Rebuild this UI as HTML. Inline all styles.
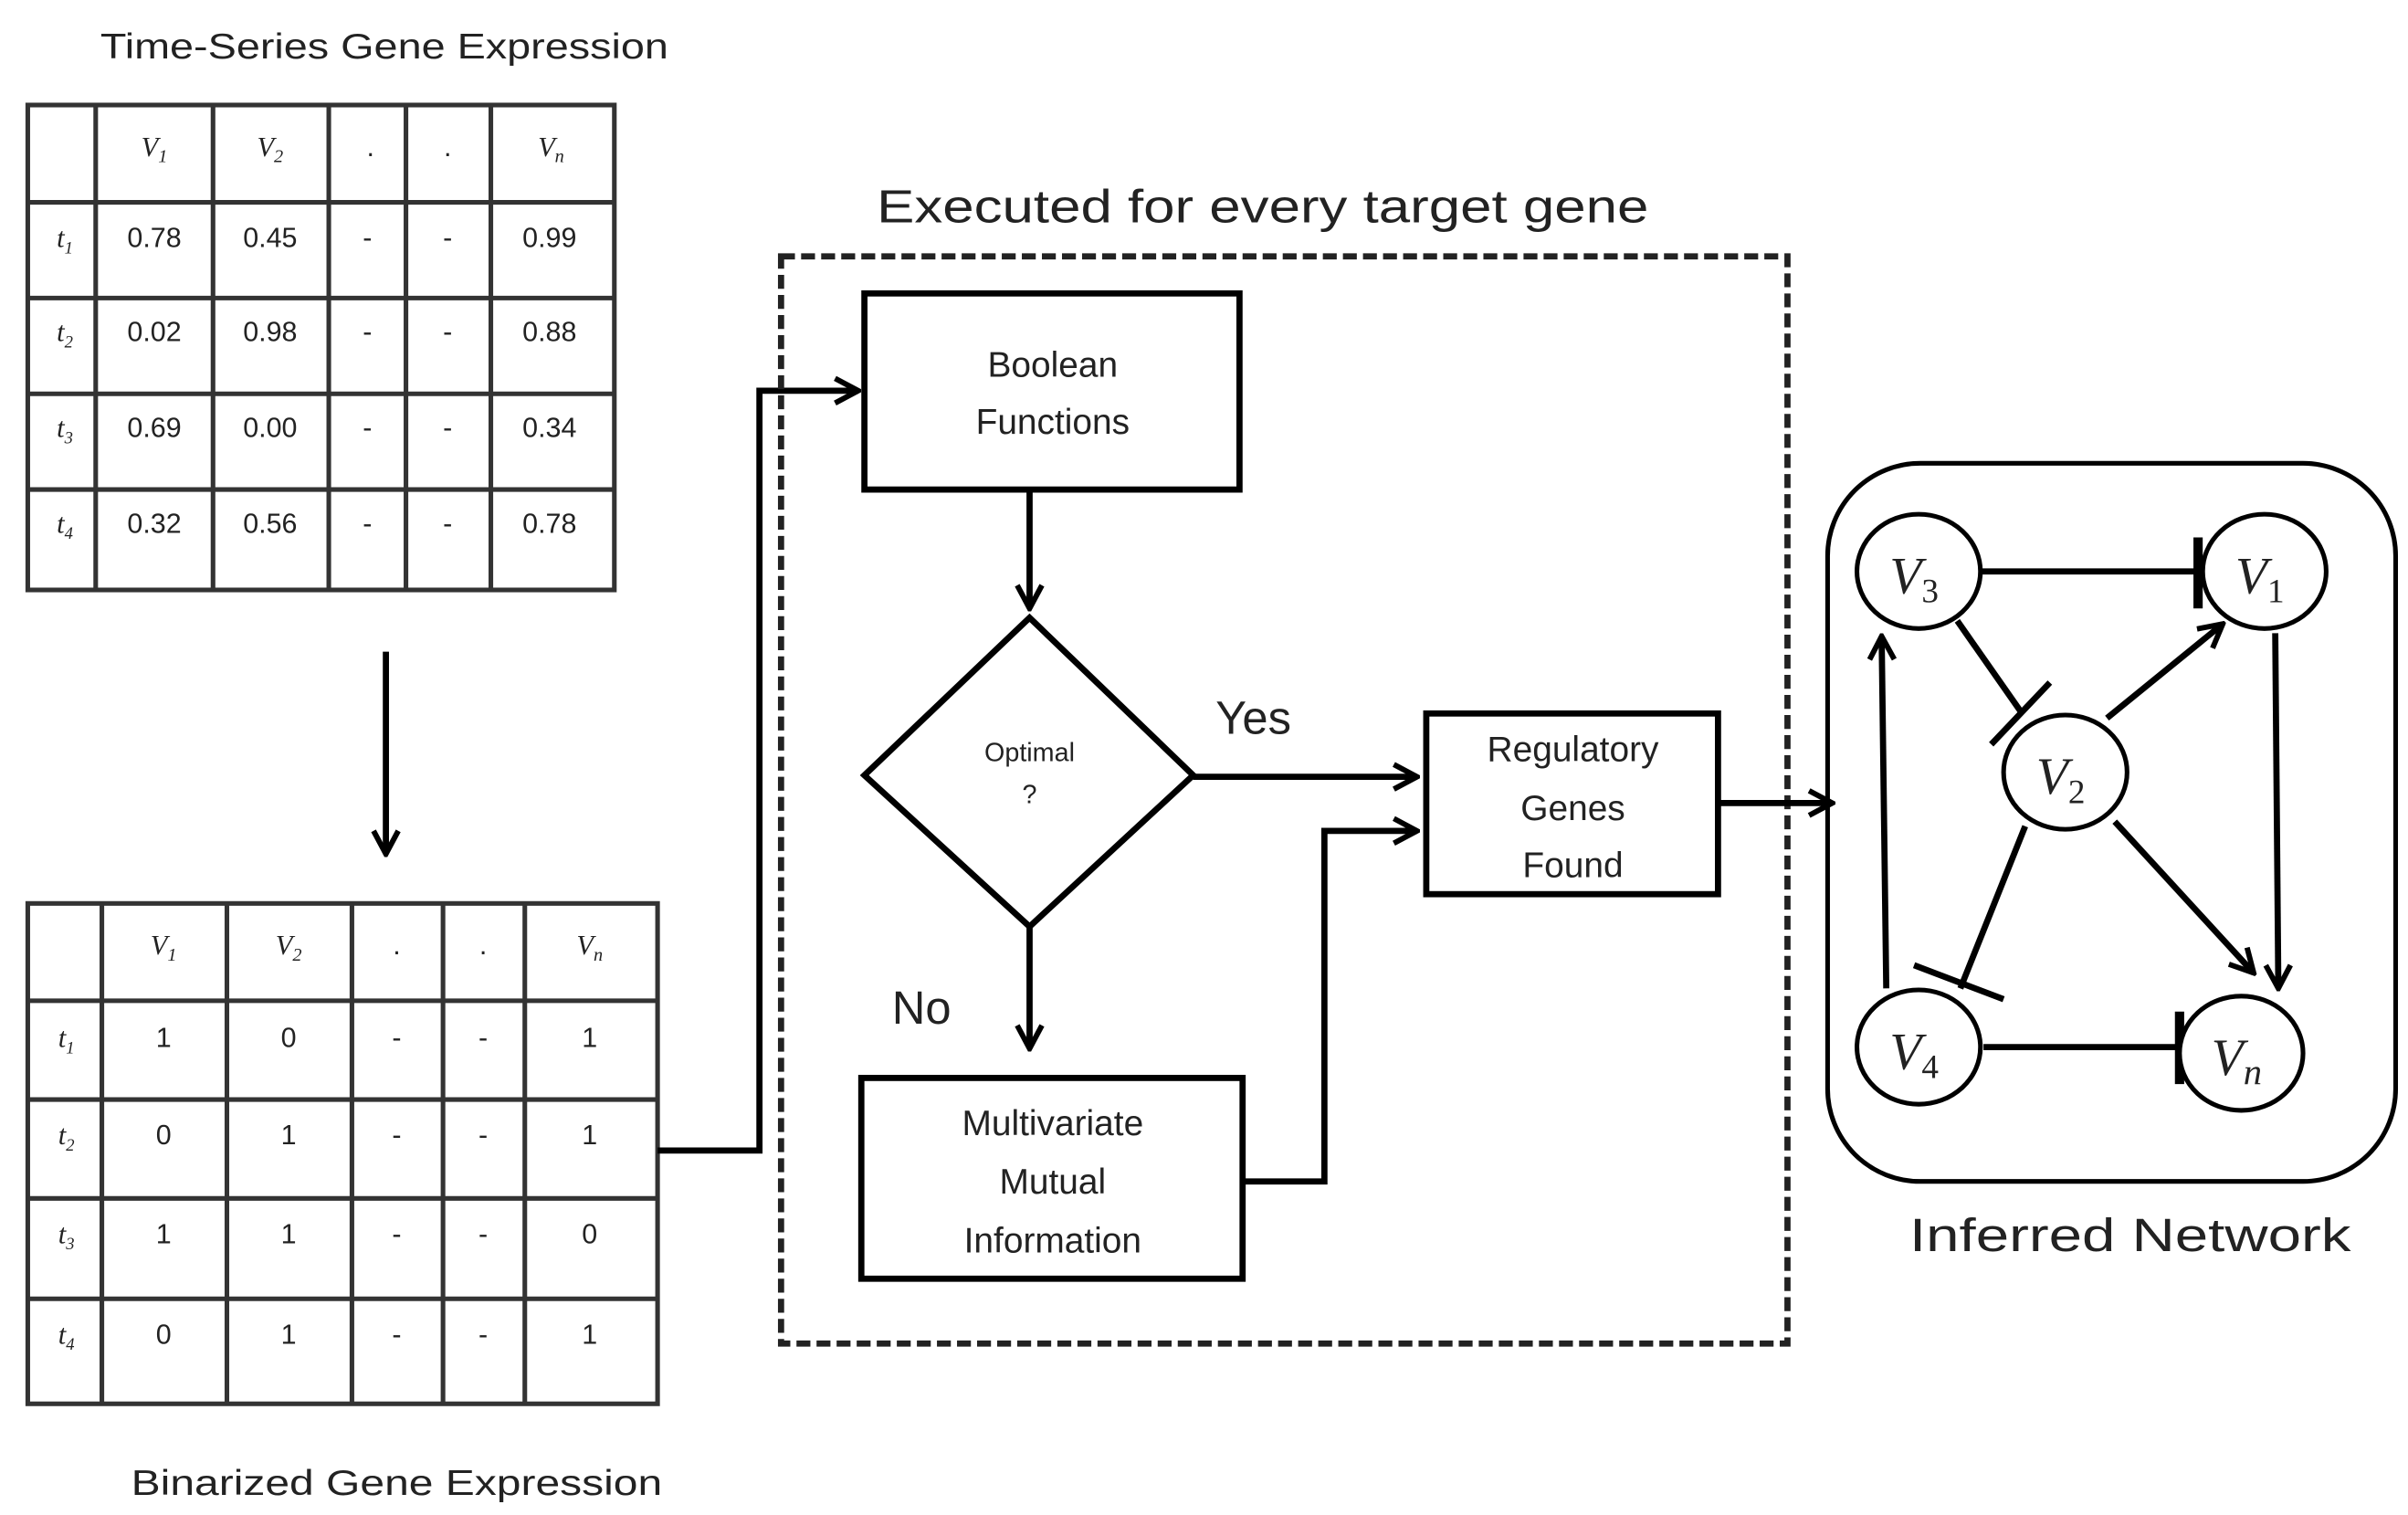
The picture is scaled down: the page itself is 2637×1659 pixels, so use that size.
<!DOCTYPE html>
<html><head><meta charset="utf-8"><style>
html,body{margin:0;padding:0;background:#fff;}
svg{display:block;}
text{font-family:"Liberation Sans",sans-serif;fill:#222;}
.s{font-family:"Liberation Serif",serif;}
</style></head><body>
<svg width="2637" height="1659" viewBox="0 0 1560 981" preserveAspectRatio="none" xmlns="http://www.w3.org/2000/svg">
<defs>
<marker id="a" viewBox="0 0 20 20" refX="18" refY="10" markerWidth="20" markerHeight="20" markerUnits="userSpaceOnUse" orient="auto">
<path d="M3,2 L18,10 L3,18" fill="none" stroke="#000" stroke-width="3.5"/>
</marker>
</defs>
<rect width="1560" height="981" fill="#fff"/>
<text x="249" y="38" font-size="23" text-anchor="middle" textLength="368" lengthAdjust="spacingAndGlyphs">Time-Series Gene Expression</text>
<g stroke="#333" stroke-width="3" fill="none">
<rect x="18" y="68" width="380" height="314"/>
<path d="M62,68V382 M138,68V382 M213,68V382 M263,68V382 M318,68V382 M18,131H398 M18,193H398 M18,255H398 M18,317H398"/>
</g>
<g font-size="18" text-anchor="middle">
<text class="s" x="100" y="101" font-style="italic">V<tspan font-size="12" dy="4">1</tspan></text>
<text class="s" x="175" y="101" font-style="italic">V<tspan font-size="12" dy="4">2</tspan></text>
<text x="240" y="101">.</text><text x="290" y="101">.</text>
<text class="s" x="357" y="101" font-style="italic">V<tspan font-size="12" dy="4">n</tspan></text>
<text class="s" x="42" y="160" font-style="italic">t<tspan font-size="11" dy="4">1</tspan></text>
<text class="s" x="42" y="221" font-style="italic">t<tspan font-size="11" dy="4">2</tspan></text>
<text class="s" x="42" y="283" font-style="italic">t<tspan font-size="11" dy="4">3</tspan></text>
<text class="s" x="42" y="345" font-style="italic">t<tspan font-size="11" dy="4">4</tspan></text>
<text x="100" y="160">0.78</text><text x="175" y="160">0.45</text><text x="238" y="160">-</text><text x="290" y="160">-</text><text x="356" y="160">0.99</text>
<text x="100" y="221">0.02</text><text x="175" y="221">0.98</text><text x="238" y="221">-</text><text x="290" y="221">-</text><text x="356" y="221">0.88</text>
<text x="100" y="283">0.69</text><text x="175" y="283">0.00</text><text x="238" y="283">-</text><text x="290" y="283">-</text><text x="356" y="283">0.34</text>
<text x="100" y="345">0.32</text><text x="175" y="345">0.56</text><text x="238" y="345">-</text><text x="290" y="345">-</text><text x="356" y="345">0.78</text>
</g>
<line x1="250" y1="422" x2="250" y2="553" stroke="#000" stroke-width="4" marker-end="url(#a)"/>
<g stroke="#333" stroke-width="3" fill="none">
<rect x="18" y="585" width="408" height="324"/>
<path d="M66,585V909 M147,585V909 M228,585V909 M287,585V909 M340,585V909 M18,648H426 M18,712H426 M18,776H426 M18,841H426"/>
</g>
<g font-size="18" text-anchor="middle">
<text class="s" x="106" y="618" font-style="italic">V<tspan font-size="12" dy="4">1</tspan></text>
<text class="s" x="187" y="618" font-style="italic">V<tspan font-size="12" dy="4">2</tspan></text>
<text x="257" y="618">.</text><text x="313" y="618">.</text>
<text class="s" x="382" y="618" font-style="italic">V<tspan font-size="12" dy="4">n</tspan></text>
<text class="s" x="43" y="678" font-style="italic">t<tspan font-size="11" dy="4">1</tspan></text>
<text class="s" x="43" y="741" font-style="italic">t<tspan font-size="11" dy="4">2</tspan></text>
<text class="s" x="43" y="805" font-style="italic">t<tspan font-size="11" dy="4">3</tspan></text>
<text class="s" x="43" y="870" font-style="italic">t<tspan font-size="11" dy="4">4</tspan></text>
<text x="106" y="678">1</text><text x="187" y="678">0</text><text x="257" y="678">-</text><text x="313" y="678">-</text><text x="382" y="678">1</text>
<text x="106" y="741">0</text><text x="187" y="741">1</text><text x="257" y="741">-</text><text x="313" y="741">-</text><text x="382" y="741">1</text>
<text x="106" y="805">1</text><text x="187" y="805">1</text><text x="257" y="805">-</text><text x="313" y="805">-</text><text x="382" y="805">0</text>
<text x="106" y="870">0</text><text x="187" y="870">1</text><text x="257" y="870">-</text><text x="313" y="870">-</text><text x="382" y="870">1</text>
</g>
<text x="257" y="968" font-size="23" text-anchor="middle" textLength="344" lengthAdjust="spacingAndGlyphs">Binarized  Gene Expression</text>
<polyline points="426,745 492,745 492,253 556,253" fill="none" stroke="#000" stroke-width="4" marker-end="url(#a)"/>
<rect x="506" y="166" width="652" height="704" fill="none" stroke="#222" stroke-width="4" stroke-dasharray="9,4"/>
<text x="818" y="144" font-size="30" text-anchor="middle" textLength="500" lengthAdjust="spacingAndGlyphs">Executed for every target gene</text>
<rect x="560" y="190" width="243" height="127" fill="none" stroke="#000" stroke-width="4"/>
<text x="682" y="244" font-size="23" text-anchor="middle">Boolean</text>
<text x="682" y="281" font-size="23" text-anchor="middle">Functions</text>
<line x1="667" y1="317" x2="667" y2="394" stroke="#000" stroke-width="4" marker-end="url(#a)"/>
<polygon points="667,400 773,502 667,600 560,502" fill="none" stroke="#000" stroke-width="4"/>
<text x="667" y="493" font-size="17" text-anchor="middle" fill="#555">Optimal</text>
<text x="667" y="520" font-size="17" text-anchor="middle" fill="#555">?</text>
<text x="812" y="475" font-size="30" text-anchor="middle">Yes</text>
<line x1="773" y1="503" x2="918" y2="503" stroke="#000" stroke-width="4" marker-end="url(#a)"/>
<text x="597" y="663" font-size="30" text-anchor="middle">No</text>
<line x1="667" y1="600" x2="667" y2="679" stroke="#000" stroke-width="4" marker-end="url(#a)"/>
<rect x="558" y="698" width="247" height="130" fill="none" stroke="#000" stroke-width="4"/>
<text x="682" y="735" font-size="23" text-anchor="middle">Multivariate</text>
<text x="682" y="773" font-size="23" text-anchor="middle">Mutual</text>
<text x="682" y="811" font-size="23" text-anchor="middle">Information</text>
<polyline points="805,765 858,765 858,538 918,538" fill="none" stroke="#000" stroke-width="4" marker-end="url(#a)"/>
<rect x="924" y="462" width="189" height="117" fill="none" stroke="#000" stroke-width="4"/>
<text x="1019" y="493" font-size="23" text-anchor="middle">Regulatory</text>
<text x="1019" y="531" font-size="23" text-anchor="middle">Genes</text>
<text x="1019" y="568" font-size="23" text-anchor="middle">Found</text>
<line x1="1113" y1="520" x2="1187" y2="520" stroke="#000" stroke-width="4" marker-end="url(#a)"/>
<rect x="1184" y="300" width="368" height="465" rx="60" fill="none" stroke="#000" stroke-width="3"/>
<g stroke="#000" stroke-width="4" fill="none">
<line x1="1283" y1="370" x2="1424" y2="370"/><line x1="1424" y1="348" x2="1424" y2="394" stroke-width="6"/>
<line x1="1268" y1="402" x2="1310" y2="462"/><line x1="1290" y1="482" x2="1328" y2="442"/>
<line x1="1365" y1="465" x2="1440" y2="404" marker-end="url(#a)"/>
<line x1="1370" y1="532" x2="1460" y2="630" marker-end="url(#a)"/>
<line x1="1474" y1="410" x2="1476" y2="640" marker-end="url(#a)"/>
<line x1="1312" y1="535" x2="1270" y2="640"/><line x1="1240" y1="625" x2="1298" y2="647"/>
<line x1="1222" y1="640" x2="1219" y2="412" marker-end="url(#a)"/>
<line x1="1285" y1="678" x2="1412" y2="678"/><line x1="1412" y1="655" x2="1412" y2="702" stroke-width="6"/>
</g>
<g fill="#fff" stroke="#000" stroke-width="3">
<ellipse cx="1243" cy="370" rx="40" ry="37"/>
<ellipse cx="1467" cy="370" rx="40" ry="37"/>
<ellipse cx="1338" cy="500" rx="40" ry="37"/>
<ellipse cx="1243" cy="678" rx="40" ry="37"/>
<ellipse cx="1452" cy="682" rx="40" ry="37"/>
</g>
<g class="s" font-size="34" font-style="italic" text-anchor="middle">
<text class="s" x="1240" y="384" fill="#223">V<tspan font-style="normal" font-size="22" dy="6">3</tspan></text>
<text class="s" x="1464" y="384" fill="#223">V<tspan font-style="normal" font-size="22" dy="6">1</tspan></text>
<text class="s" x="1335" y="514" fill="#223">V<tspan font-style="normal" font-size="22" dy="6">2</tspan></text>
<text class="s" x="1240" y="692" fill="#223">V<tspan font-style="normal" font-size="22" dy="6">4</tspan></text>
<text class="s" x="1449" y="696" fill="#223">V<tspan font-size="24" dy="6">n</tspan></text>
</g>
<text x="1380" y="810" font-size="30" text-anchor="middle" textLength="286" lengthAdjust="spacingAndGlyphs">Inferred Network</text>
</svg>
</body></html>
